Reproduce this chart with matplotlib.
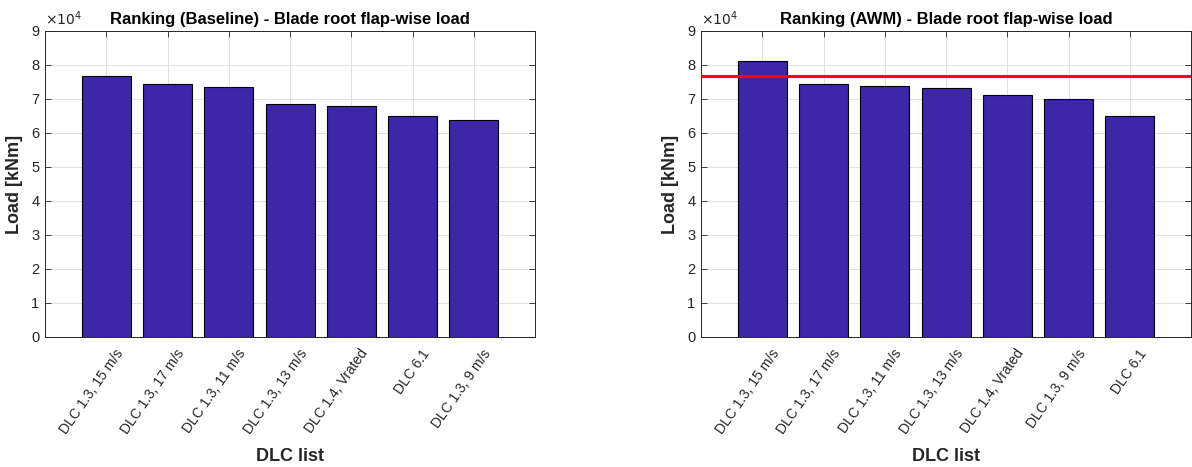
import numpy as np
import matplotlib
matplotlib.use("Agg")
import matplotlib.pyplot as plt
import matplotlib.transforms as mtransforms
from matplotlib.ticker import FuncFormatter

plt.rcParams['font.family'] = ['Liberation Sans', 'DejaVu Sans']

# baseline ranking
base_labels = ["DLC 1.3, 15 m/s", "DLC 1.3, 17 m/s", "DLC 1.3, 11 m/s",
               "DLC 1.3, 13 m/s", "DLC 1.4, Vrated", "DLC 6.1", "DLC 1.3, 9 m/s"]
base_loads = [76700, 74500, 73500, 68400, 68000, 65000, 63700]

# AWM ranking
awm_labels = ["DLC 1.3, 15 m/s", "DLC 1.3, 17 m/s", "DLC 1.3, 11 m/s",
              "DLC 1.3, 13 m/s", "DLC 1.4, Vrated", "DLC 1.3, 9 m/s", "DLC 6.1"]
awm_loads = [81300, 74500, 73900, 73200, 71300, 69900, 65000]

ref_load = max(base_loads)

bar_color = (0.2422, 0.1504, 0.6603)
ax_color = '#262626'

fig = plt.figure(figsize=(11.92, 4.67), dpi=100)
W, H = 1192, 467
ax1 = fig.add_axes([45 / W, 130 / H, 490 / W, 306 / H])
ax2 = fig.add_axes([701 / W, 130 / H, 490 / W, 306 / H])


def draw(ax, labels, loads, title):
    x = np.arange(1, len(loads) + 1)
    ax.bar(x, loads, width=0.8, color=bar_color, edgecolor='black',
           linewidth=0.8, zorder=3)
    ax.set_xlim(0, len(loads) + 1)
    ax.set_ylim(0, 90000)
    ax.set_yticks(np.arange(0, 90001, 10000))
    ax.yaxis.set_major_formatter(FuncFormatter(lambda v, p: "%d" % round(v / 1e4)))
    ax.tick_params(direction='in', top=True, right=True, length=4,
                   width=0.6, colors=ax_color, labelsize=10.5, pad=4)
    ax.tick_params(axis='x', pad=10)
    ax.set_xticks(x)
    ax.set_xticklabels(labels, rotation=55, ha='right', va='center',
                       rotation_mode='anchor', fontsize=10, color=ax_color)
    # MATLAB puts the end of the rotated label a little right of the tick
    shift = mtransforms.ScaledTranslation(14 / 100, 0, fig.dpi_scale_trans)
    for t in ax.xaxis.get_major_ticks():
        t.label1.set_transform(t.label1.get_transform() + shift)
    ax.grid(True, color='#dedede', linewidth=0.7, zorder=0)
    ax.set_axisbelow(True)
    for s in ax.spines.values():
        s.set_color(ax_color)
        s.set_linewidth(0.7)
    ax.set_title(title, fontsize=12, fontweight='bold', pad=5)
    ax.set_xlabel("DLC list", fontsize=13, fontweight='bold', color=ax_color,
                  labelpad=8)
    ax.set_ylabel("Load [kNm]", fontsize=13, fontweight='bold', color=ax_color,
                  labelpad=6)
    ax.text(0.0, 1.01, r"$\times10^{4}$", transform=ax.transAxes,
            fontsize=10, color=ax_color, ha='left', va='bottom')


draw(ax1, base_labels, base_loads, "Ranking (Baseline) - Blade root flap-wise load")
draw(ax2, awm_labels, awm_loads, "Ranking (AWM) - Blade root flap-wise load")
ax2.axhline(ref_load, color='red', linewidth=2.2, zorder=4)

fig.savefig("out.png", dpi=100)
